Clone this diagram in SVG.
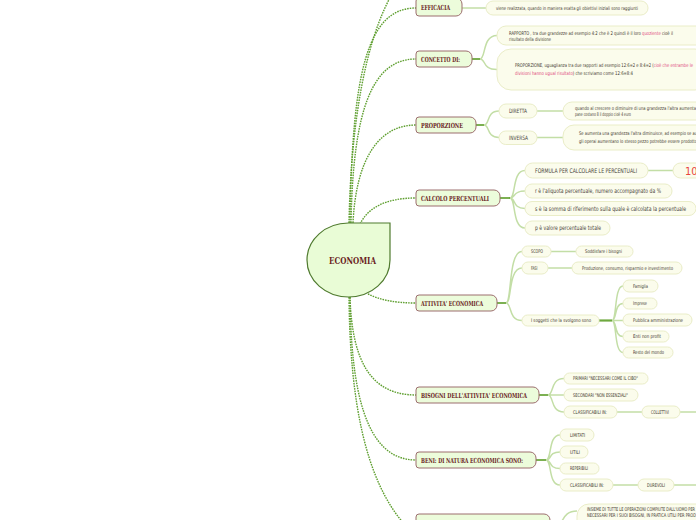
<svg xmlns="http://www.w3.org/2000/svg" width="696" height="520" viewBox="0 0 696 520">
<style>
.c1{fill:none;stroke:#5f9f30;stroke-width:1.4;stroke-dasharray:1.6 1}
.c2{fill:none;stroke:#c3dea6;stroke-width:1.5}
.cd{fill:none;stroke:#6ea83f;stroke-width:1.8}
.n1{fill:#ecfcdb;stroke:#9c6e6e;stroke-width:1}
.n2{fill:#fbfcec;stroke:#eaedc8;stroke-width:1}
.t1{font-family:"DejaVu Serif Condensed","DejaVu Serif",serif;font-weight:bold;font-size:7px;fill:#6b1f1f}
.t2{font-family:"Liberation Sans Narrow","DejaVu Sans Condensed","Liberation Sans",sans-serif;font-size:5px;fill:#3f382c}
.t3{font-family:"Liberation Sans Narrow","DejaVu Sans Condensed","Liberation Sans",sans-serif;font-size:6.3px;fill:#4a453b}
.pk{fill:#e0457a}
</style>
<rect width="696" height="520" fill="#ffffff"/>
<g id="connectors">
<path class="c1" d="M349,223 C351,120 366,40 392,-6"/>
<path class="c1" d="M350,223 C352,70 368,8 416,8"/>
<path class="c1" d="M351,223 C353,110 372,59 416,59"/>
<path class="c1" d="M353,223 C356,160 378,125 416,125"/>
<path class="c1" d="M360,224 C368,208 385,198 416,198"/>
<path class="c1" d="M368,294 C380,300 395,303 416,303"/>
<path class="c1" d="M350,297 C352,360 370,395 416,395"/>
<path class="c1" d="M350,297 C351,390 365,460 416,460"/>
<path class="c1" d="M349,297 C350,400 365,480 405,525"/>
<path class="c2" d="M462,8 H486"/>
<path class="cd" d="M472,59 H480"/>
<path class="c2" d="M480,59 C486,59 482,35.5 497,35.5 M480,59 C486,59 482,69.5 497,69.5"/>
<path class="cd" d="M476,125 H484"/>
<path class="c2" d="M484,125 C490,125 486,111 499,111 M484,125 C490,125 486,137.5 499,137.5"/>
<path class="c2" d="M537,111 H563 M537,137.5 H563"/>
<path class="cd" d="M500,198 H510"/>
<path class="c2" d="M510,198 C516,198 512,170.5 525,170.5 M510,198 C516,198 512,191 525,191 M510,198 C516,198 512,208.5 525,208.5 M510,198 C516,198 512,228 525,228"/>
<path class="c2" d="M648,170.5 H673"/>
<path class="cd" d="M497,303 H506"/>
<path class="c2" d="M506,303 C512,303 508,251.5 522,251.5 M506,303 C512,303 508,268 522,268 M506,303 C512,303 508,320.5 522,320.5"/>
<path class="c2" d="M551,251.5 H576 M548,268 H572"/>
<path class="cd" d="M599,320.5 H612" style="stroke-width:2.2"/>
<path class="c2" d="M612,320.5 C617,320.5 614,286 623,286 M612,320.5 C617,320.5 614,303.5 623,303.5 M612,320.5 H623 M612,320.5 C617,320.5 614,336.5 623,336.5 M612,320.5 C617,320.5 614,352.5 623,352.5"/>
<path class="cd" d="M539,395 H548"/>
<path class="c2" d="M548,395 C554,395 550,378.5 564,378.5 M548,395 H564 M548,395 C554,395 550,412 564,412"/>
<path class="c2" d="M617,412 H642 M680,412 H700"/>
<path class="cd" d="M536,460 H546"/>
<path class="c2" d="M546,460 C552,460 548,435 560,435 M546,460 C552,460 548,452 560,452 M546,460 C552,460 548,468.5 560,468.5 M546,460 C552,460 548,485 560,485"/>
<path class="c2" d="M613,485 H638 M674,485 H700"/>
<path class="cd" d="M550,524 H558"/>
<path class="c2" d="M558,524 C564,524 562,511 577,511"/>
</g>
<g id="economia">
<path d="M348.5,223 H390 V260 A41.5,37 0 0 1 348.5,297 A41.5,37 0 0 1 307,260 A41.5,37 0 0 1 348.5,223 Z" fill="#e9fcd6" stroke="#4f7a2e" stroke-width="1.2"/>
<text class="t1" x="329" y="263.5" style="font-size:10px" textLength="47" lengthAdjust="spacingAndGlyphs">ECONOMIA</text>
</g>
<g id="efficacia">
<path class="n1" d="M419,-2 H456 A6,6 0 0 1 462,4 V10 A6,6 0 0 1 456,16 H419 A3,3 0 0 1 416,13 V1 A3,3 0 0 1 419,-2 Z"/>
<text class="t1" x="421" y="9.5" textLength="29" lengthAdjust="spacingAndGlyphs">EFFICACIA</text>
</g>
<g id="efficacia-def">
<rect class="n2" x="486" y="1" width="162" height="14" rx="7"/>
<text class="t2" x="496" y="10" textLength="142" lengthAdjust="spacingAndGlyphs">viene realizzata, quando in maniera esatta gli obiettivi iniziali sono raggiunti</text>
</g>
<g id="concetto">
<path class="n1" d="M419,51 H466 A6,6 0 0 1 472,57 V61 A6,6 0 0 1 466,67 H419 A3,3 0 0 1 416,64 V54 A3,3 0 0 1 419,51 Z"/>
<text class="t1" x="421" y="61.5" textLength="39" lengthAdjust="spacingAndGlyphs">CONCETTO DI:</text>
</g>
<g id="rapporto">
<rect class="n2" x="497" y="26" width="212" height="19" rx="9"/>
<text class="t2" x="509" y="34.5" textLength="164" lengthAdjust="spacingAndGlyphs">RAPPORTO , tra due grandezze ad esempio 4:2  che è 2 quindi è il loro <tspan class="pk">quoziente</tspan> cioè il</text>
<text class="t2" x="509" y="41" textLength="42" lengthAdjust="spacingAndGlyphs">risultato della divisione</text>
</g>
<g id="proporzione-def">
<rect class="n2" x="497" y="49" width="212" height="41" rx="14"/>
<text class="t2" x="515" y="66.5" textLength="178" lengthAdjust="spacingAndGlyphs">PROPORZIONE, uguaglianza tra due rapporti ad esempio 12:6=2 e 8:4=2 (<tspan class="pk">cioè che entrambe le</tspan></text>
<text class="t2" x="515" y="74.5" textLength="118" lengthAdjust="spacingAndGlyphs"><tspan class="pk">divisioni hanno ugual risultato</tspan>) che scriviamo come 12:6=8:4</text>
</g>
<g id="proporzione">
<path class="n1" d="M419,117 H470 A6,6 0 0 1 476,123 V127 A6,6 0 0 1 470,133 H419 A3,3 0 0 1 416,130 V120 A3,3 0 0 1 419,117 Z"/>
<text class="t1" x="421" y="127.5" textLength="42" lengthAdjust="spacingAndGlyphs">PROPORZIONE</text>
</g>
<g id="diretta">
<rect class="n2" x="499" y="104" width="38" height="14" rx="7"/>
<text class="t3" x="509" y="113.2" style="font-size:6px" textLength="18" lengthAdjust="spacingAndGlyphs">DIRETTA</text>
</g>
<g id="inversa">
<rect class="n2" x="499" y="131" width="38" height="13.5" rx="6.7"/>
<text class="t3" x="509" y="139.9" style="font-size:6px" textLength="19" lengthAdjust="spacingAndGlyphs">INVERSA</text>
</g>
<g id="diretta-def">
<rect class="n2" x="563" y="102" width="145" height="18" rx="9"/>
<text class="t2" x="575" y="109.5" textLength="121" lengthAdjust="spacingAndGlyphs">quando al crescere o diminuire di una grandezza l'altra aumenta</text>
<text class="t2" x="575" y="116" textLength="56" lengthAdjust="spacingAndGlyphs">pane costano 8 il doppio cioè 4 euro</text>
</g>
<g id="inversa-def">
<rect class="n2" x="563" y="125" width="145" height="25" rx="11"/>
<text class="t2" x="579" y="134.5" textLength="118" lengthAdjust="spacingAndGlyphs">Se aumenta una grandezza l'altra diminuisce, ad esempio se au</text>
<text class="t2" x="579" y="143" textLength="118" lengthAdjust="spacingAndGlyphs">gli operai aumentano lo stesso pezzo potrebbe essere prodotto</text>
</g>
<g id="calcolo">
<path class="n1" d="M419,190 H494 A6,6 0 0 1 500,196 V200 A6,6 0 0 1 494,206 H419 A3,3 0 0 1 416,203 V193 A3,3 0 0 1 419,190 Z"/>
<text class="t1" x="421" y="200.5" textLength="68" lengthAdjust="spacingAndGlyphs">CALCOLO PERCENTUALI</text>
</g>
<g id="formula">
<rect class="n2" x="525" y="163" width="123" height="15" rx="7.5"/>
<text class="t3" x="535" y="172.8" textLength="102" lengthAdjust="spacingAndGlyphs">FORMULA PER CALCOLARE LE PERCENTUALI</text>
</g>
<g id="cento">
<rect class="n2" x="673" y="163" width="40" height="15" rx="7.5"/>
<text x="685" y="175" font-family="Liberation Sans Narrow, DejaVu Sans Condensed, sans-serif" font-size="11" fill="#e8453c">100</text>
</g>
<g id="aliquota">
<rect class="n2" x="525" y="184" width="147" height="14" rx="7"/>
<text class="t3" x="535" y="193.2" textLength="126" lengthAdjust="spacingAndGlyphs">r è l'aliquota percentuale, numero accompagnato da %</text>
</g>
<g id="somma">
<rect class="n2" x="525" y="201.5" width="171" height="14" rx="7"/>
<text class="t3" x="535" y="210.7" textLength="151" lengthAdjust="spacingAndGlyphs">s è la somma di riferimento sulla quale è calcolata la percentuale</text>
</g>
<g id="valore">
<rect class="n2" x="525" y="221" width="85" height="14" rx="7"/>
<text class="t3" x="535" y="230.2" textLength="66" lengthAdjust="spacingAndGlyphs">p è valore percentuale totale</text>
</g>
<g id="attivita">
<path class="n1" d="M419,295 H491 A6,6 0 0 1 497,301 V305 A6,6 0 0 1 491,311 H419 A3,3 0 0 1 416,308 V298 A3,3 0 0 1 419,295 Z"/>
<text class="t1" x="421" y="305.5" textLength="62" lengthAdjust="spacingAndGlyphs">ATTIVITA' ECONOMICA</text>
</g>
<g id="scopo">
<rect class="n2" x="522" y="246" width="29" height="11" rx="5.5"/>
<text class="t2" x="531" y="253.3" textLength="12" lengthAdjust="spacingAndGlyphs">SCOPO</text>
</g>
<g id="soddisfare">
<rect class="n2" x="576" y="246" width="57" height="11" rx="5.5"/>
<text class="t2" x="585" y="253.3" textLength="37" lengthAdjust="spacingAndGlyphs">Soddisfare i bisogni</text>
</g>
<g id="fasi">
<rect class="n2" x="522" y="262" width="26" height="12" rx="6"/>
<text class="t2" x="531" y="269.8" textLength="6.5" lengthAdjust="spacingAndGlyphs">FASI</text>
</g>
<g id="produzione">
<rect class="n2" x="572" y="262" width="110" height="12" rx="6"/>
<text class="t2" x="582" y="269.8" textLength="91" lengthAdjust="spacingAndGlyphs">Produzione, consumo, risparmio e investimento</text>
</g>
<g id="soggetti">
<rect class="n2" x="522" y="315" width="77" height="11" rx="5.5"/>
<text class="t2" x="531" y="322.3" textLength="60" lengthAdjust="spacingAndGlyphs">I soggetti che la svolgono sono</text>
</g>
<g id="famiglia">
<rect class="n2" x="623" y="280" width="35" height="12" rx="6"/>
<text class="t2" x="633" y="287.8" textLength="15" lengthAdjust="spacingAndGlyphs">Famiglia</text>
</g>
<g id="imprese">
<rect class="n2" x="623" y="298" width="34" height="11" rx="5.5"/>
<text class="t2" x="633" y="305.3" textLength="14" lengthAdjust="spacingAndGlyphs">Imprese</text>
</g>
<g id="pubblica">
<rect class="n2" x="623" y="314" width="69" height="12" rx="6"/>
<text class="t2" x="633" y="321.8" textLength="50" lengthAdjust="spacingAndGlyphs">Pubblica amministrazione</text>
</g>
<g id="enti">
<rect class="n2" x="623" y="331" width="46" height="11" rx="5.5"/>
<text class="t2" x="633" y="338.3" textLength="28" lengthAdjust="spacingAndGlyphs">Enti non profit</text>
</g>
<g id="resto">
<rect class="n2" x="623" y="347" width="50" height="11" rx="5.5"/>
<text class="t2" x="633" y="354.3" textLength="31" lengthAdjust="spacingAndGlyphs">Resto del mondo</text>
</g>
<g id="bisogni">
<path class="n1" d="M419,387 H533 A6,6 0 0 1 539,393 V397 A6,6 0 0 1 533,403 H419 A3,3 0 0 1 416,400 V390 A3,3 0 0 1 419,387 Z"/>
<text class="t1" x="421" y="397.5" textLength="106" lengthAdjust="spacingAndGlyphs">BISOGNI  DELL'ATTIVITA' ECONOMICA</text>
</g>
<g id="primari">
<rect class="n2" x="564" y="373" width="84" height="11" rx="5.5"/>
<text class="t2" x="573" y="380.3" textLength="65" lengthAdjust="spacingAndGlyphs">PRIMARI "NECESSARI COME IL CIBO"</text>
</g>
<g id="secondari">
<rect class="n2" x="564" y="389" width="74" height="12" rx="6"/>
<text class="t2" x="573" y="396.8" textLength="55" lengthAdjust="spacingAndGlyphs">SECONDARI "NON ESSENZIALI"</text>
</g>
<g id="classificabili-1">
<rect class="n2" x="564" y="406" width="53" height="12" rx="6"/>
<text class="t2" x="573" y="413.8" textLength="34" lengthAdjust="spacingAndGlyphs">CLASSIFICABILI IN:</text>
</g>
<g id="collettivi">
<rect class="n2" x="642" y="406" width="38" height="12" rx="6"/>
<text class="t2" x="651" y="413.8" textLength="18" lengthAdjust="spacingAndGlyphs">COLLETTIVI</text>
</g>
<g id="beni">
<path class="n1" d="M419,452 H530 A6,6 0 0 1 536,458 V462 A6,6 0 0 1 530,468 H419 A3,3 0 0 1 416,465 V455 A3,3 0 0 1 419,452 Z"/>
<text class="t1" x="421" y="462.5" textLength="102" lengthAdjust="spacingAndGlyphs">BENI: DI NATURA ECONOMICA SONO:</text>
</g>
<g id="limitati">
<rect class="n2" x="560" y="429" width="34" height="12" rx="6"/>
<text class="t2" x="570" y="436.8" textLength="15" lengthAdjust="spacingAndGlyphs">LIMITATI</text>
</g>
<g id="utili">
<rect class="n2" x="560" y="446" width="28" height="12" rx="6"/>
<text class="t2" x="570" y="453.8" textLength="10" lengthAdjust="spacingAndGlyphs">UTILI</text>
</g>
<g id="reperibili">
<rect class="n2" x="560" y="463" width="39" height="11" rx="5.5"/>
<text class="t2" x="570" y="470.3" textLength="18" lengthAdjust="spacingAndGlyphs">REPERIBILI</text>
</g>
<g id="classificabili-2">
<rect class="n2" x="560" y="479" width="53" height="12" rx="6"/>
<text class="t2" x="570" y="486.8" textLength="34" lengthAdjust="spacingAndGlyphs">CLASSIFICABILI IN:</text>
</g>
<g id="durevoli">
<rect class="n2" x="638" y="479" width="36" height="12" rx="6"/>
<text class="t2" x="647" y="486.8" textLength="18" lengthAdjust="spacingAndGlyphs">DUREVOLI</text>
</g>
<g id="bottom-node">
<path class="n1" d="M419,514 H544 A6,6 0 0 1 550,520 V526 A6,6 0 0 1 544,532 H419 A3,3 0 0 1 416,529 V517 A3,3 0 0 1 419,514 Z"/>
</g>
<g id="insieme">
<rect class="n2" x="577" y="504" width="135" height="30" rx="12"/>
<text class="t2" x="587" y="511" textLength="108" lengthAdjust="spacingAndGlyphs">INSIEME DI TUTTE LE OPERAZIONI COMPIUTE DALL'UOMO PER</text>
<text class="t2" x="587" y="517" textLength="109" lengthAdjust="spacingAndGlyphs">NECESSARI PER I SUOI BISOGNI, IN PRATICA UTILI PER PROD</text>
</g>
</svg>
